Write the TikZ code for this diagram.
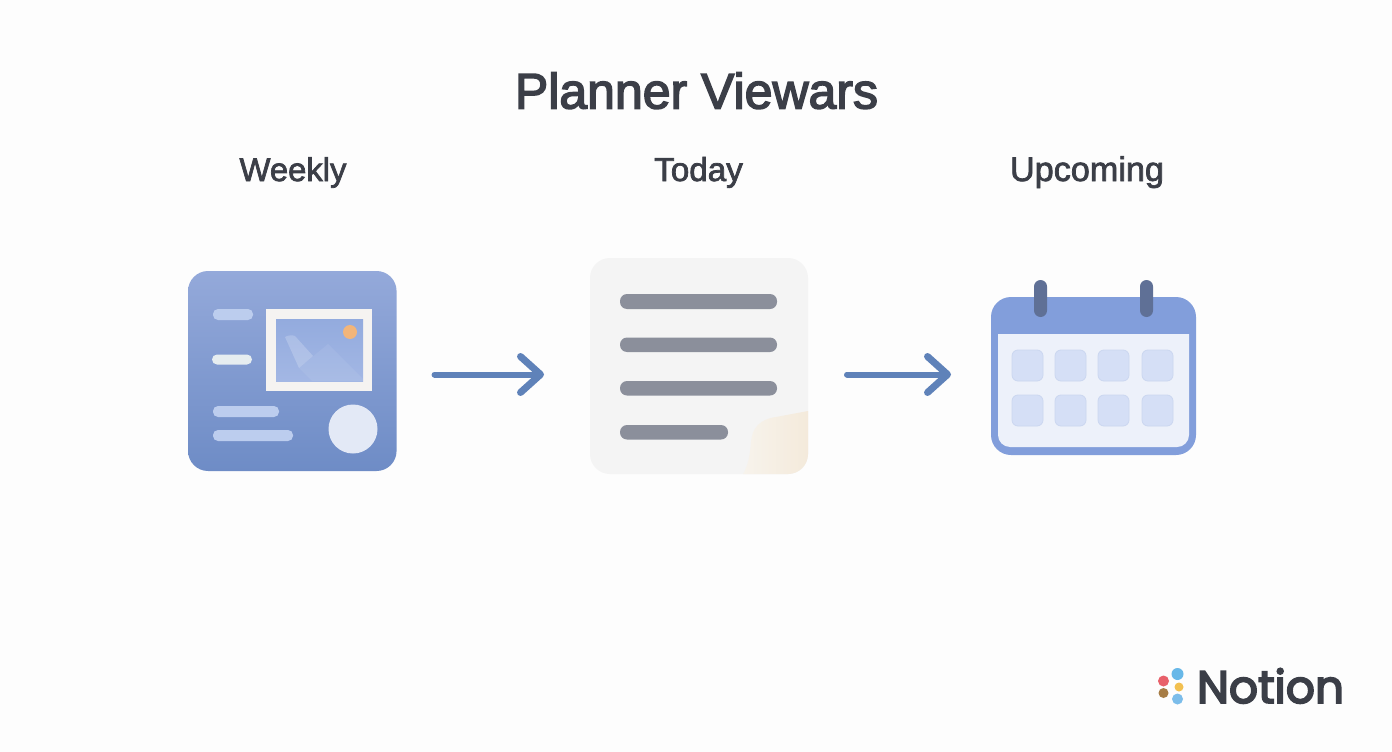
\documentclass[tikz,border=0pt]{standalone}
\usepackage{fontspec}
\setmainfont{Liberation Sans}
\newfontfamily\headfont[FakeBold=3]{Liberation Sans}
\newfontfamily\subfont[FakeBold=2.2]{Liberation Sans}
\newfontfamily\logofont[FakeBold=4]{Poppins}
\usetikzlibrary{arrows.meta,calc}
\definecolor{pagebg}{HTML}{FDFDFD}
\definecolor{ink}{HTML}{3B3E47}
\definecolor{flowc}{HTML}{5F82B9}
\definecolor{weektop}{HTML}{94A9DA}
\definecolor{weekbot}{HTML}{6E8CC6}
\definecolor{pillc}{HTML}{BCCDEE}
\definecolor{pillb}{HTML}{E6EDF0}
\definecolor{framec}{HTML}{F5F3F1}
\definecolor{phototop}{HTML}{93ABDE}
\definecolor{photobot}{HTML}{A3B7E4}
\definecolor{discc}{HTML}{E3E9F6}
\definecolor{sunc}{HTML}{F2B57A}
\definecolor{barc}{HTML}{8B8F9B}
\definecolor{paperc}{HTML}{F4F4F4}
\definecolor{curlc}{HTML}{F4EADB}
\definecolor{curld}{HTML}{F7F3EC}
\definecolor{calblue}{HTML}{829EDB}
\definecolor{calin}{HTML}{EDF1FA}
\definecolor{ringc}{HTML}{5F7096}
\definecolor{cellc}{HTML}{D5DFF6}
\definecolor{celle}{HTML}{CBD7F0}
\definecolor{dotred}{HTML}{E8606A}
\definecolor{dotblue}{HTML}{68B8E8}
\definecolor{dotyellow}{HTML}{F2C050}
\definecolor{dotbrown}{HTML}{A67C45}
\definecolor{dotsky}{HTML}{7CBDEA}
\tikzset{
  x=1pt,y=-1pt,
  panel/.style={rectangle,inner sep=0pt,outer sep=0pt,rounded corners=20pt},
  heading/.style={anchor=base,text=ink,inner sep=0pt},
  flow/.style={draw=flowc,line width=6pt,line cap=round,-{Straight Barb[length=20pt,width=36pt,line width=7pt,round]}},
  shadowlayer/.style={fill=black,fill opacity=0.0012},
  pill/.style={rounded corners=5pt},
  bar/.style={fill=barc,rounded corners=7pt},
  cell/.style={fill=cellc,draw=celle,line width=0.8pt,rounded corners=6pt},
  ring/.style={fill=ringc,rounded corners=6.5pt},
}
\begin{document}
\begin{tikzpicture}
\useasboundingbox (0,0) rectangle (1392,752);
\fill[pagebg] (0,0) rectangle (1392,752);
\coordinate (axis) at (0,374.5);
% soft shadows
\foreach \g in {2,4,...,30}{
  \pgfmathsetmacro{\rr}{20+\g}
  \fill[shadowlayer,rounded corners=\rr pt] (188-\g,275-\g) rectangle (396+\g,477+\g);
  \fill[shadowlayer,rounded corners=\rr pt] (590-\g,262-\g) rectangle (808+\g,480+\g);
  \fill[shadowlayer,rounded corners=\rr pt] (991-\g,301-\g) rectangle (1196+\g,461+\g);
}
% texts
\node[heading,font=\headfont\fontsize{50}{60}\selectfont] (title) at (696.5,108.5) {Planner Viewars};
\node[heading,font=\subfont\fontsize{32.8}{38}\selectfont] (lweekly) at (293,181) {Weekly};
\node[heading,font=\subfont\fontsize{33.2}{38}\selectfont] (ltoday) at (698.5,181) {Today};
\node[heading,font=\subfont\fontsize{34.2}{38}\selectfont] (lupcoming) at (1087,181) {Upcoming};
% weekly panel
\node[panel,minimum width=208.5pt,minimum height=200pt,top color=weektop,bottom color=weekbot] (weekly) at (292.3,371) {};
\fill[pillc,pill] (213,309) rectangle (253,320);
\fill[pillb,pill] (212,354.5) rectangle (252,364.5);
\fill[pillc,pill] (213,406) rectangle (279,417);
\fill[pillc,pill] (213,430) rectangle (293,441);
\fill[framec] (266,309) rectangle (372,391);
\shade[top color=phototop,bottom color=photobot] (276,319) rectangle (363,381);
\fill[sunc] (350,332) circle (7);
\fill[white,opacity=.07] (299,368) -- (328,344) -- (363,379) -- (363,381) -- (312,381) -- cycle;
\fill[white,opacity=.2] (285,337) .. controls (288,335) and (293,335) .. (295,336) -- (313,356) -- (299,368) -- cycle;
\fill[discc] (353,429) circle (24.5);
% today panel
\node[panel,minimum width=218pt,minimum height=216pt,fill=paperc] (today) at (699,366) {};
\fill[bar] (620,294) rectangle (777,309);
\fill[bar] (620,337.5) rectangle (777,352);
\fill[bar] (620,381) rectangle (777,395.5);
\fill[bar] (620,425) rectangle (728,439.5);
\begin{scope}
  \clip[rounded corners=20pt] (590,258) rectangle (808,474);
  \shade[shading angle=45,left color=curld,right color=curlc] (808,411) -- (776,417)
     .. controls (760,419) and (752,428) .. (751,442) .. controls (750,455) and (748,466) .. (743,474)
     -- (808,474) -- cycle;
\end{scope}
% upcoming panel
\node[panel,minimum width=205pt,minimum height=158pt,fill=calblue] (upcoming) at (1093.5,376) {};
\fill[calin] (998,334) -- (1189,334) -- (1189,435) arc[start angle=0,end angle=90,radius=12] -- (1010,447) arc[start angle=90,end angle=180,radius=12] -- cycle;
\fill[ring] (1034,280) rectangle (1047,317);
\fill[ring] (1140,280) rectangle (1153,317);
\foreach \cx in {1012,1055,1098,1142}{
  \foreach \cy in {350,395}{
    \draw[cell] (\cx,\cy) rectangle (\cx+31,\cy+31);
  }
}
% connectors
\draw[flow,shorten <=38pt,shorten >=46pt] (weekly.east |- axis) -- (today.west |- axis);
\draw[flow,shorten <=39pt,shorten >=40pt] (today.east |- axis) -- (upcoming.west |- axis);
% logo
\fill[dotred] (1163.5,681) circle (5.5);
\fill[dotblue] (1177.5,674) circle (6);
\fill[dotyellow] (1179,687) circle (4.5);
\fill[dotbrown] (1163.5,693) circle (5);
\fill[dotsky] (1177.5,699) circle (5.5);
\node[heading,font=\logofont\fontsize{45.5}{54}\selectfont] (brand) at (1270.5,703) {Notion};
\end{tikzpicture}
\end{document}
